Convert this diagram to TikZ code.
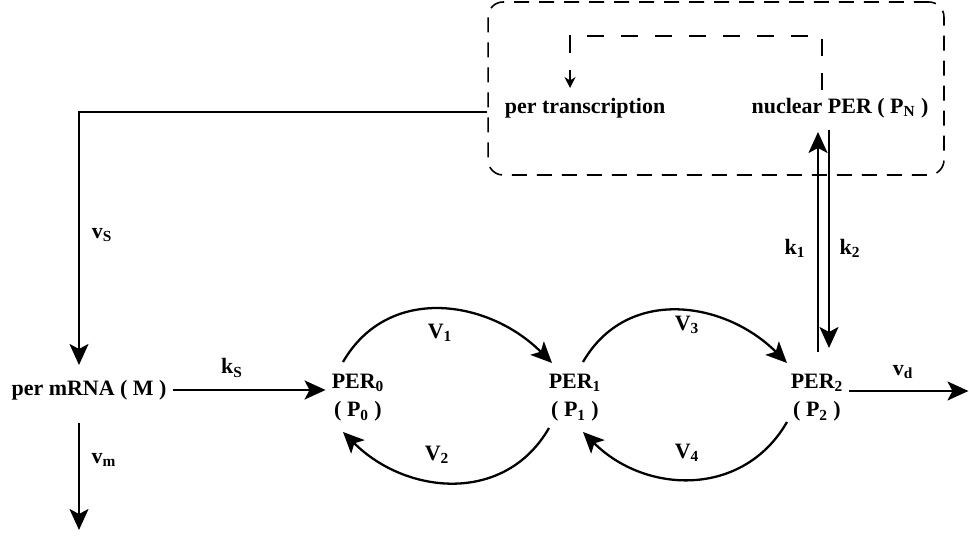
\documentclass[tikz,border=0pt]{standalone}
\usepackage{fontspec}
\setmainfont{Liberation Serif}
\usetikzlibrary{arrows.meta,positioning}
\newcommand{\lowsub}[1]{\textsubscript{#1}}

\begin{document}
\begin{tikzpicture}[x=0.02cm, y=0.02cm, font=\fontsize{12.5}{16}\selectfont\bfseries,
    flow/.style={line width=1.3pt, -{Stealth[length=0.42cm, width=0.38cm, inset=0.1cm]}},
    feedback/.style={line width=0.9pt, dash pattern=on 0.34cm off 0.34cm, -{Stealth[length=0.22cm, width=0.22cm]}},
    species/.style={align=center}]
    \useasboundingbox (0,0) rectangle (969,536);

    % nucleus
    \node [draw, line width=0.9pt, dash pattern=on 0.3cm off 0.2cm, rounded corners=0.3cm,
        minimum width=9.12cm, minimum height=3.46cm] (nucleus) at (716,447.5) {};
    \node (transcr) at (585,428) {per transcription};
    \node (nuclear) at (840,428) {nuclear PER ( P\lowsub{N} )};

    % species
    \node (mrna) at (89,146) {per mRNA ( M )};
    \node [species] (p0) at (358,138) {PER\lowsub{0}\\( P\lowsub{0} )};
    \node [species] (p1) at (575,138) {PER\lowsub{1}\\( P\lowsub{1} )};
    \node [species] (p2) at (817,138) {PER\lowsub{2}\\( P\lowsub{2} )};

    % feedback and transcription
    \draw [feedback] ([shift={(-18,18)}]nuclear.center) |- (570,500) -- ([shift={(-15,20)}]transcr.center);
    \draw [flow] ([shift={(0,-23.5)}]nucleus.west) -| ([shift={(-10,25)}]mrna.center);
    \node (vs) at (102,301) {v\lowsub{S}};

    % synthesis, degradation
    \draw [flow] (mrna) -- (mrna -| p0.west);
    \node (ks) at (232,168) {k\lowsub{S}};
    \draw [flow] ([shift={(-10,-33)}]mrna.center) -- ([shift={(-10,-140)}]mrna.center);
    \node (vm) at (104,76) {v\lowsub{m}};
    \draw [flow] ([shift={(0,7)}]p2.east) -- ++(119,0);
    \node (vd) at (903,164) {v\lowsub{d}};

    % phosphorylation cycle
    \draw [flow] ([shift={(-15,36)}]p0.center) to[out=60, in=135, looseness=1.1] ([shift={(-23,35)}]p1.center);
    \draw [flow] ([shift={(-26,-30)}]p1.center) to[out=-120, in=-45, looseness=1.1] ([shift={(-15,-34)}]p0.center);
    \draw [flow] ([shift={(8,36)}]p1.center) to[out=60, in=135, looseness=1.1] ([shift={(-30,35)}]p2.center);
    \draw [flow] ([shift={(-30,-24)}]p2.center) to[out=-120, in=-45, looseness=1.1] ([shift={(8,-34)}]p1.center);
    \node (v1) at (440,203) {V\lowsub{1}};
    \node (v2) at (437,81) {V\lowsub{2}};
    \node (v3) at (687,211) {V\lowsub{3}};
    \node (v4) at (687,83) {V\lowsub{4}};

    % transport
    \draw [flow] ([shift={(1,46)}]p2.center) -- ([shift={(-22,-24)}]nuclear.center);
    \draw [flow] ([shift={(-11,-22)}]nuclear.center) -- ([shift={(12,50)}]p2.center);
    \node (k1) at (795,288) {k\lowsub{1}};
    \node (k2) at (850,288) {k\lowsub{2}};
\end{tikzpicture}
\end{document}
